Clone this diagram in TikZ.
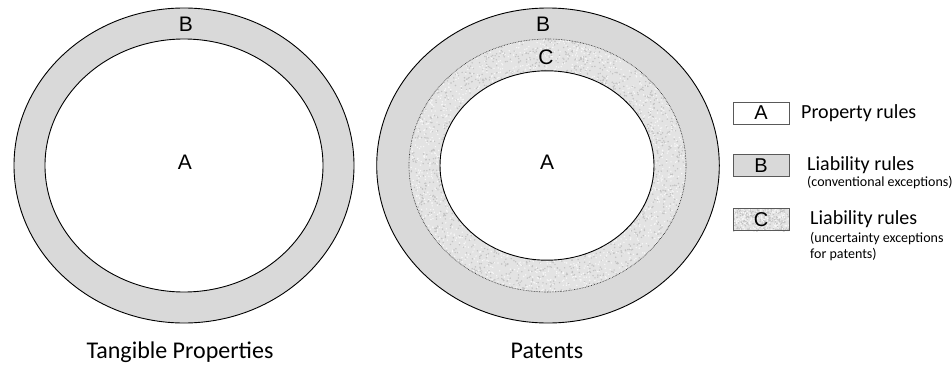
\documentclass[tikz,border=0pt]{standalone}
\usepackage{fontspec}
\setmainfont{Carlito}
\newfontfamily\letterfont{Liberation Sans}
\usetikzlibrary{positioning}

% grainy fill for the uncertainty band
\newcommand{\speckle}[5]{%
  \pgfmathsetseed{11}
  \fill[black!11] (#1,#2) rectangle (#3,#4);
  \foreach \k in {1,...,#5} {
    \fill[black!24] ({#1+rnd*(#3-#1)},{#2+rnd*(#4-#2)}) circle (0.8pt);
    \fill[white!97!black] ({#1+rnd*(#3-#1)},{#2+rnd*(#4-#2)}) circle (0.8pt);
  }}

\begin{document}
\begin{tikzpicture}[x=1pt,y=-1pt]
      \tikzstyle{ring}=[draw=black, line width=0.9pt, fill=black!15]
      \tikzstyle{hole}=[draw=black, line width=0.9pt, fill=white]
      \tikzstyle{border_dots}=[draw=black!85, line width=0.6pt, dash pattern=on 0.7pt off 0.9pt]
      \tikzstyle{letter}=[font=\letterfont\fontsize{21}{24}\selectfont, inner sep=0pt]
      \tikzstyle{caption}=[font=\fontsize{24}{28}\selectfont, inner sep=0pt, anchor=base]
      \tikzstyle{key}=[draw=black!65, line width=0.6pt, minimum width=56pt, minimum height=22pt, inner sep=0pt, font=\letterfont\fontsize{20}{22}\selectfont]
      \tikzstyle{rule}=[font=\fontsize{20}{24}\selectfont, inner sep=0pt, anchor=base west]
      \tikzstyle{rule_note}=[font=\fontsize{14}{16}\selectfont, inner sep=0pt, anchor=base west]

      \useasboundingbox (0,0) rectangle (952,364);

      % tangible properties
      \begin{scope}
        \draw [ring] (184,165.5) ellipse [x radius=170, y radius=157.5];
        \draw [hole] (184,165.5) ellipse [x radius=139, y radius=126.5];
        \node [letter] (tanB) at (186,24) {B};
        \node [letter] (tanA) at (185,162) {A};
        \node [caption] (tanCap) at (180,358) {Tangible Properties};
      \end{scope}

      % patents
      \begin{scope}
        \draw [ring] (548,165.5) ellipse [x radius=171.3, y radius=157.5];
        \begin{scope}
          \clip (547.5,165.5) ellipse [x radius=138.5, y radius=126.5];
          \speckle{409}{39}{686}{292}{3500}
        \end{scope}
        \draw [hole] (547,165.5) ellipse [x radius=107, y radius=94.7];
        \draw [border_dots] (547.5,165.5) ellipse [x radius=138.5, y radius=126.5];
        \node [letter] (patB) at (543,24) {B};
        \node [letter] (patC) at (546,57) {C};
        \node [letter] (patA) at (547,162) {A};
        \node [caption] (patCap) at (547,358) {Patents};
      \end{scope}

      % legend
      \begin{scope}
        \node [key, fill=white] (keyA) at (761,113) {A};
        \node [key, fill=black!15] (keyB) at (761,165.5) {B};
        \begin{scope}
          \clip (733,208) rectangle (789,231);
          \speckle{733}{208}{789}{231}{250}
        \end{scope}
        \node [key] (keyC) at (761,219.5) {C};

        \node [rule] (ruleA) at (801,118) {Property rules};
        \node [rule] (ruleB) at (807,170) {Liability rules};
        \node [rule_note] (noteB) at (807,186.5) {(conventional exceptions)};
        \node [rule] (ruleC) at (810,224) {Liability rules};
        \node [rule_note] (noteC) at (810,242) {(uncertainty exceptions};
        \node [rule_note] (noteC2) at (810,258) {for patents)};
      \end{scope}

    \end{tikzpicture}
\end{document}
